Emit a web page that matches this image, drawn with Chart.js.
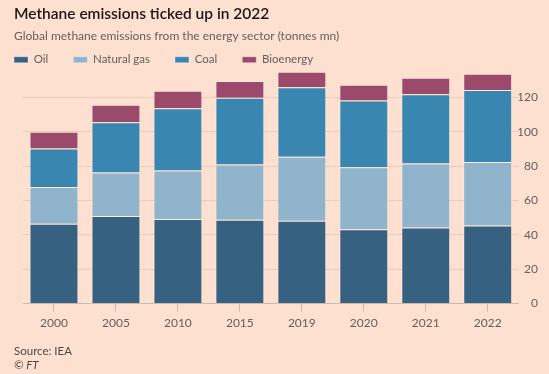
<!DOCTYPE html>
<html>
<head>
<meta charset="utf-8">
<script src="https://cdn.jsdelivr.net/npm/chart.js@4/dist/chart.umd.min.js"></script>
<style>
  html, body { margin: 0; padding: 0; background: #fde0d0; }
  #wrap { position: relative; width: 549px; height: 374px; }
  canvas { position: absolute; left: 0; top: 0; }
  .foot { position: absolute; left: 14px; font-family: Lato, sans-serif; font-size: 11.5px; color: #4d4845; }
</style>
</head>
<body>
<div id="wrap">
  <canvas id="methanechart" width="549" height="374"></canvas>
  <div class="foot" style="top:344px">Source: IEA</div>
  <div class="foot" style="top:358px; font-style:italic">© FT</div>
</div>
<script>
// years on the x axis
var annees = ['2000', '2005', '2010', '2015', '2019', '2020', '2021', '2022'];

// tonnes mn
var petrole    = [46.5, 51.0, 49.2, 48.8, 48.2, 43.3, 44.3, 45.5];
var gaz        = [21.3, 25.3, 28.3, 32.2, 37.3, 36.1, 37.3, 36.9];
var charbon    = [22.4, 29.2, 36.2, 38.8, 40.4, 38.8, 40.3, 41.9];
var bioenergie = [ 9.8, 10.2, 10.2,  9.8,  9.0,  9.2,  9.5,  9.4];

var grisTexte = '#66605c';

var data = {
  labels: annees,
  datasets: [
    { label: 'Oil',         data: petrole,    backgroundColor: 'rgb(54, 97, 129)' },
    { label: 'Natural gas', data: gaz,        backgroundColor: 'rgb(143, 180, 204)' },
    { label: 'Coal',        data: charbon,    backgroundColor: 'rgb(57, 135, 176)' },
    { label: 'Bioenergy',   data: bioenergie, backgroundColor: 'rgb(155, 74, 108)' }
  ]
};
data.datasets.forEach(ds => {
  ds.borderColor = 'rgba(255, 255, 255, 0.35)';
  ds.borderWidth = 1;
  ds.categoryPercentage = 1;
  ds.barPercentage = 0.79;
});

// the legend sits tight under the subtitle, flush with the title
var legendeSerree = {
  id: 'legendeSerree',
  beforeInit(chart) {
    var leg = chart.legend;
    var fitOrig = leg.fit;
    leg.fit = function() {
      fitOrig.call(this);
      this.height = 20.4;
    };
  },
  afterLayout(chart) {
    var leg = chart.legend;
    var pad = leg.options.labels.padding;
    leg.left = 14 - pad;
    leg.top = 54 - pad;
  }
};

var config = {
  type: 'bar',
  data: data,
  plugins: [legendeSerree],
  options: {
    responsive: false,
    animation: false,
    layout: { padding: { left: 14, right: 11, top: 0, bottom: 40 } },
    plugins: {
      title: {
        display: true,
        align: 'start',
        text: 'Methane emissions ticked up in 2022',
        color: '#1a1817',
        font: { family: 'Lato', size: 15.5, weight: '600' },
        padding: { top: 4.5, bottom: 6 }
      },
      subtitle: {
        display: true,
        align: 'start',
        text: 'Global methane emissions from the energy sector (tonnes mn)',
        color: grisTexte,
        font: { family: 'Lato', size: 12 },
        padding: { top: 0, bottom: 6 }
      },
      legend: {
        display: true,
        align: 'start',
        labels: {
          boxWidth: 14,
          boxHeight: 6,
          color: grisTexte,
          font: { family: 'Lato', size: 11.5 },
          padding: 25
        }
      },
      tooltip: { enabled: false }
    },
    scales: {
      x: {
        stacked: true,
        grid: { display: true, drawOnChartArea: false, offset: false, tickLength: 8, color: '#c9bbb2' },
        border: { display: true, color: '#c9bbb2' },
        ticks: { color: grisTexte, font: { family: 'Lato', size: 12 }, padding: 4 }
      },
      y: {
        stacked: true,
        position: 'right',
        min: 0,
        max: 136,
        grid: { color: '#ebcbbb', drawTicks: false },
        border: { display: false },
        ticks: { stepSize: 20, includeBounds: false, crossAlign: 'far', color: grisTexte, font: { family: 'Lato', size: 12 }, padding: 0 },
        afterFit: s => { s.width = 19.3; }
      },
      marge: {
        position: 'left',
        display: true,
        grid: { display: false },
        border: { display: false },
        ticks: { display: false },
        afterFit: s => { s.width = 9; }
      }
    }
  }
};

var methanectx = document.getElementById('methanechart').getContext('2d');
var methanechart = new Chart(methanectx, config);
</script>
</body>
</html>
